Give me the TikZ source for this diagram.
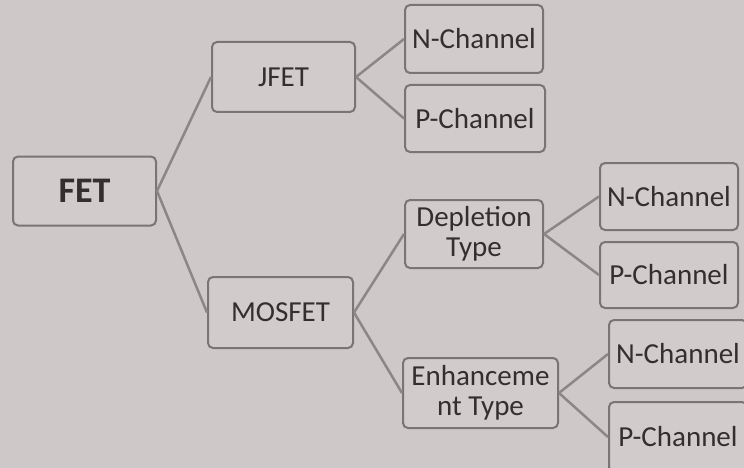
\documentclass[tikz,border=0pt]{standalone}
\usepackage{fontspec}
\setmainfont{Carlito}
\definecolor{bgc}{RGB}{206,201,200}
\definecolor{boxc}{RGB}{209,204,203}
\definecolor{edgec}{RGB}{122,117,117}
\definecolor{linec}{RGB}{140,135,135}
\definecolor{txtc}{RGB}{52,47,47}
\tikzset{
  fetbox/.style={draw=edgec, line width=2pt, fill=boxc, rounded corners=5pt,
    text=txtc, inner sep=0pt, align=center, font=\fontsize{29}{30}\selectfont},
  conn/.style={draw=linec, line width=2.5pt},
}
\begin{document}
\begin{tikzpicture}[x=1pt,y=-1pt]
\useasboundingbox (0,0) rectangle (744,468);
\clip (0,0) rectangle (744,468);
\fill[bgc] (0,0) rectangle (744,468);
\node[fetbox, minimum width=143pt, minimum height=69pt, font=\fontsize{36}{38}\selectfont\bfseries] (fet) at (84.5,191) {FET};
\node[fetbox, minimum width=143pt, minimum height=70pt] (jfet) at (283.5,77) {JFET};
\node[fetbox, minimum width=138pt, minimum height=68pt] (n1) at (474,39) {N-Channel};
\node[fetbox, minimum width=140pt, minimum height=67pt] (p1) at (475,118.5) {P-Channel};
\node[fetbox, minimum width=145pt, minimum height=71pt] (mos) at (280.5,312.5) {MOSFET};
\node[fetbox, minimum width=138pt, minimum height=68pt] (dep) at (474,234) {Depletion\\Type};
\node[fetbox, minimum width=138pt, minimum height=67pt] (n2) at (669,196.5) {N-Channel};
\node[fetbox, minimum width=138pt, minimum height=66pt] (p2) at (669,275) {P-Channel};
\node[fetbox, minimum width=155pt, minimum height=70pt] (enh) at (480.5,393) {Enhanceme\\nt Type};
\node[fetbox, minimum width=138pt, minimum height=68pt] (n3) at (678,354) {N-Channel};
\node[fetbox, minimum width=138pt, minimum height=70pt] (p3) at (678,437) {P-Channel};
\draw[conn] (fet.east) -- (jfet.west);
\draw[conn] (fet.east) -- (mos.west);
\draw[conn] (jfet.east) -- (n1.west);
\draw[conn] (jfet.east) -- (p1.west);
\draw[conn] (mos.east) -- (dep.west);
\draw[conn] (mos.east) -- (enh.west);
\draw[conn] (dep.east) -- (n2.west);
\draw[conn] (dep.east) -- (p2.west);
\draw[conn] (enh.east) -- (n3.west);
\draw[conn] (enh.east) -- (p3.west);
\end{tikzpicture}
\end{document}
